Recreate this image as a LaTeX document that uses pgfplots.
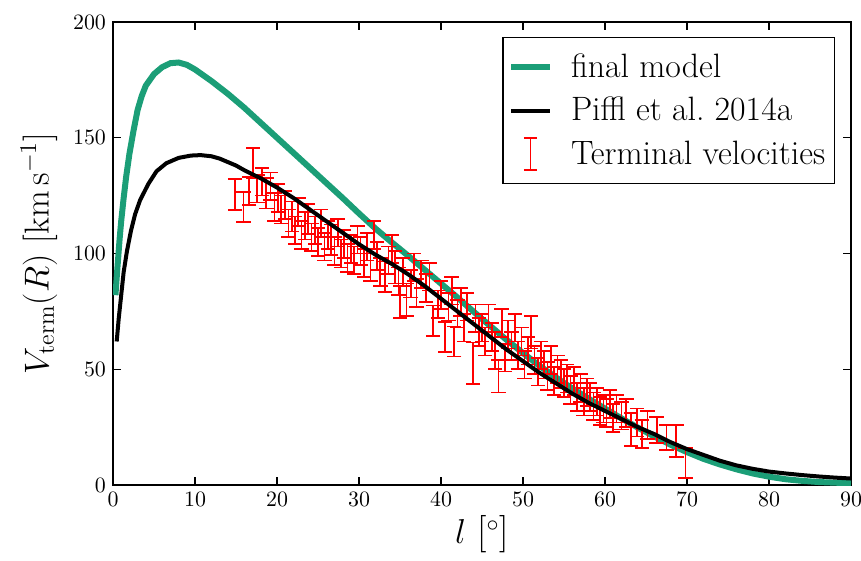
\documentclass[border=0pt]{standalone}
\usepackage{pgfplots}
\usepackage{pgfplotstable}
\pgfplotsset{compat=1.18}
\definecolor{dgreen}{RGB}{27,158,119}

\pgfplotstableread{
l V e
14.9 125.5 6.8
15.9 120 6.5
16.6 127 6
17.1 139 6.5
17.6 128 6
18.2 131 6
18.7 126 6.5
19.2 129 6
19.7 120 6
20.1 124 6
20.5 119 6
21.0 121 6
21.4 113 6
21.8 116 6.5
22.2 110 6
22.6 118 6
23.0 108 6
23.4 112 6
23.8 115 6.5
24.2 107 6
24.6 110 6
25.0 105 6
25.4 113 6
25.8 103 6
26.2 108 6
26.6 106 6.5
27.0 101 6
27.4 109 6
27.8 100 6
28.2 104 6
28.6 98 6
29.0 102 6
29.4 97 6
29.8 106 6
30.2 101 6
30.6 96 6
31.0 103 6
31.4 94 6
31.8 108 6
32.2 99 6
32.6 92 6
33.2 90 6.5
33.6 97 6
34.0 102 6
34.4 94 7
34.8 88 6
35.0 79 7
35.4 92 6
35.8 80 7
36.3 87 6
36.7 94 6
37.0 83 6
37.6 91 6
38.2 85 6
38.6 90 6
39.0 71 6.5
39.6 78 6
40.0 82 6
40.5 64 6.5
40.9 77 6
41.3 84 6
41.6 62 6.5
42.0 74 6
42.4 79 6
42.8 68 6
43.2 77 6
43.9 52.5 9
44.2 72 6
44.6 66 6
45.0 68 6
45.4 62 6
45.8 72 6
46.2 64 6
46.6 58 8
47.0 47 7
47.4 70 6
47.8 55 6
48.2 65 6
48.6 60 6
49.0 68 6
49.4 56 6
49.8 62 6
50.2 52 6
50.6 58 6
51.0 66 7
51.4 54 6
51.8 49 6
52.2 56 6
52.6 52 6
53.0 47 6
53.4 54 6
53.8 45 6
54.2 50 6
54.6 48 6
55.0 44 6
55.4 46 6
55.8 41 6
56.2 45 6
56.6 38 6
57.0 42 6
57.4 36 6
57.8 40 6
58.2 38 6
58.6 34 6
59.0 36 6
59.4 32 6
59.8 33 6
60.2 31 6
60.6 35 6
61.0 29 6
61.4 33 6
62.0 30 6
62.6 31 6
63.2 24 7
63.9 27 6
64.5 22 6
65.2 26 6
66.3 23.8 5.7
67.5 20.5 5.4
68.7 19 7
69.8 9.5 6.5
}\termdata

\begin{document}
\begin{tikzpicture}
\begin{axis}[
  scale only axis,
  width=369pt, height=231.5pt,
  xmin=0, xmax=90, ymin=0, ymax=200,
  xtick={0,10,...,90}, ytick={0,50,...,200},
  minor tick num=0,
  tick align=inside,
  major tick length=3.8pt,
  axis line style={line width=0.6pt},
  every tick/.style={black, line width=0.6pt},
  tick label style={font=\fontsize{10.5}{12}\selectfont},
  xlabel={$l$ [$^\circ$]},
  ylabel={$V_{\mathrm{term}}(R)\ [\mathrm{km\,s^{-1}}]$},
  label style={font=\fontsize{18.7}{22}\selectfont},
  xlabel style={yshift=2pt},
  ylabel style={yshift=1pt},
  legend style={font=\fontsize{16.9}{20}\selectfont, draw=black, line width=0.6pt,
    at={(0.978,0.968)}, anchor=north east, inner xsep=2.5pt, inner ysep=6pt,
    row sep=4.5pt, cells={anchor=west},
    /tikz/every odd column/.append style={column sep=7pt}},
  legend image code/.code={\draw[#1] (0pt,0pt) -- (19.5pt,0pt);},
]
\addplot[dgreen, line width=3pt, forget plot] coordinates {
(0.3,82) (0.5,92) (0.8,106) (1,114) (1.3,124) (1.6,133) (2,143) (2.5,153)
(3,162) (3.5,168) (4,172.5) (5,177.5) (6,180.5) (7,182.2) (8,182.5) (9,181.5)
(10,179.5) (12,174.5) (14,169) (16,163) (18,156.5) (20,150) (22,143.5) (24,137)
(26,130.5) (28,124) (30,117.3) (32,110.8) (34,104.8) (36,99) (38,93) (40,87)
(42,81) (44,74.8) (46,68.7) (48,62.7) (50,57) (52,51.5) (54,46.5) (56,41.7)
(58,37.3) (60,33) (62,28.8) (64,24.8) (66,21) (68,17.4) (70,14.2) (72,11.3)
(74,8.9) (76,6.8) (78,5) (80,3.6) (82,2.5) (84,1.8) (86,1.3) (88,1) (90,0.8)
};
\addplot[red, draw=none, mark=none, forget plot,
  error bars/.cd, y dir=both, y explicit,
  error bar style={draw=red, line width=0.85pt},
  error mark options={draw=red, rotate=90, mark size=3.6pt, line width=0.85pt}]
  table[x=l, y=V, y error=e] {\termdata};
\addplot[black, line width=2pt, forget plot] coordinates {
(0.45,62) (0.7,72) (1,82) (1.3,92) (1.7,101) (2.2,110) (2.7,117) (3.3,123) (4.3,130)
(5.3,135.5) (6.5,139) (8,141.3) (9.5,142.3) (10.7,142.5) (12,142) (13,141)
(14,139.5) (15,138) (16,136) (18,132.5) (20,128.5) (22,124) (24,119) (26,114)
(28,109) (30,104) (32,99.5) (34,95.5) (36,91) (38,86) (40,80.5) (42,75)
(44,69.5) (46,64) (48,58.5) (50,53.5) (52,48.5) (54,44) (56,39.5) (58,35.5)
(60,32) (62,28.5) (64,25) (66,22) (68,18.5) (70,15.5) (72,13) (74,10.5)
(76,8.5) (78,7) (80,5.8) (82,5) (84,4.3) (86,3.7) (88,3.2) (90,2.8)
};
\addlegendimage{dgreen, line width=3pt}
\addlegendentry{final model}
\addlegendimage{black, line width=2pt}
\addlegendentry{Piffl et al.\ 2014a}
\addlegendimage{legend image code/.code={
  \draw[red, line width=0.85pt] (9.75pt,-8pt) -- (9.75pt,8pt);
  \draw[red, line width=0.85pt] (6.45pt,-8pt) -- (13.05pt,-8pt);
  \draw[red, line width=0.85pt] (6.45pt,8pt) -- (13.05pt,8pt);}}
\addlegendentry{Terminal velocities}
\coordinate (SW) at (rel axis cs:0,0);
\coordinate (NE) at (rel axis cs:1,1);
\end{axis}
\pgfresetboundingbox
\path[use as bounding box] ([shift={(-56.5pt,-37.5pt)}]SW) rectangle ([shift={(5pt,11pt)}]NE);
\end{tikzpicture}
\end{document}
